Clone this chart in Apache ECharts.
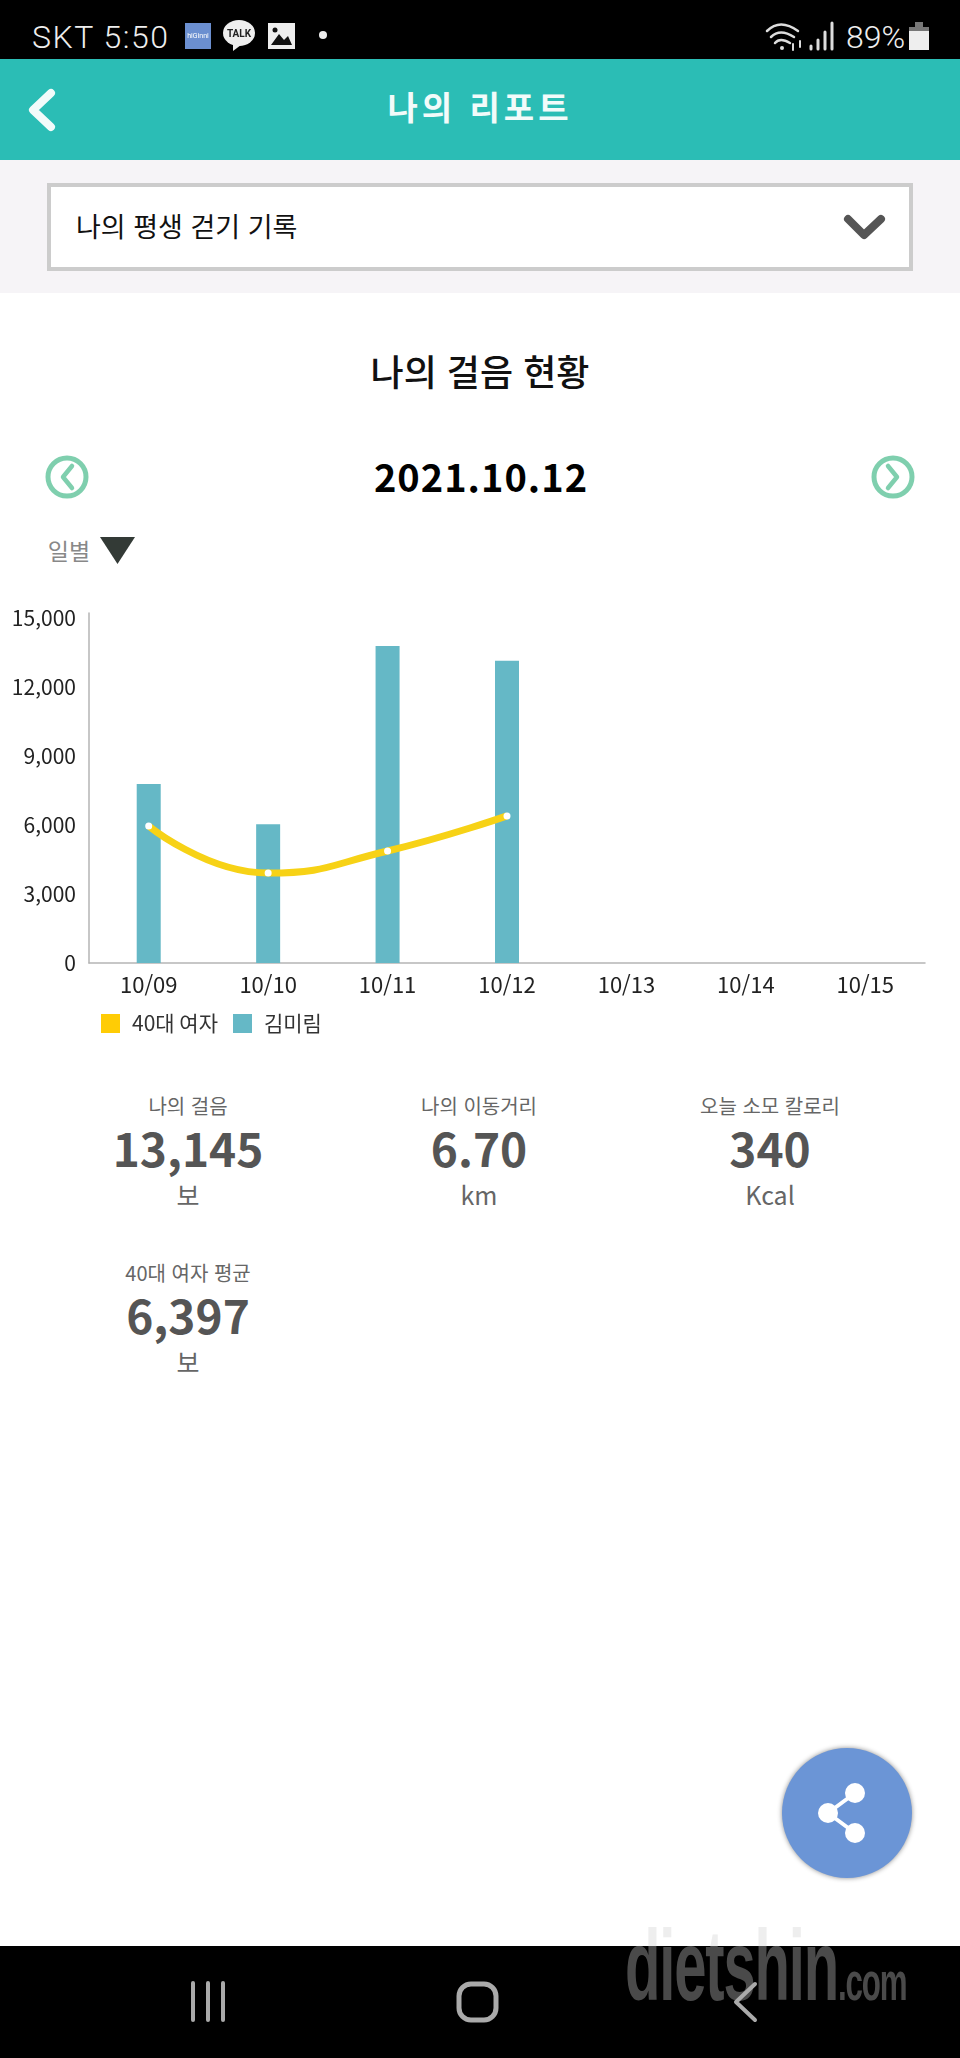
<!DOCTYPE html>
<html lang="ko">
<head>
<meta charset="utf-8">
<title>나의 리포트</title>
<script src="https://cdn.jsdelivr.net/npm/echarts@6/dist/echarts.min.js"></script>
<style>
  html, body { margin: 0; padding: 0; background: #fff; }
  body { position: relative; width: 960px; height: 2058px; overflow: hidden; font-family: "Noto Sans CJK KR", "Noto Sans", sans-serif; }
  .box { position: absolute; }
  .txt { position: absolute; white-space: nowrap; line-height: 1; transform: translate(-50%, -50%); }
  #chart { position: absolute; left: 0; top: 590px; width: 960px; height: 470px; }
  #icons { position: absolute; left: 0; top: 0; }
  .mark { position: absolute; left: 625px; top: 1915px; line-height: 1; white-space: nowrap; font-family: "Liberation Sans Narrow", "Liberation Sans", sans-serif; font-weight: 700; letter-spacing: -2px; transform-origin: left top; }
</style>
</head>
<body>
  <!-- 화면 배경 -->
  <div class="box" style="left:0;top:0;width:960px;height:59px;background:#000"></div>
  <div class="box" style="left:0;top:59px;width:960px;height:101px;background:#2bbdb5"></div>
  <div class="box" style="left:0;top:160px;width:960px;height:133px;background:#f6f4f7"></div>
  <div class="box" style="left:47px;top:183px;width:858px;height:80px;background:#fff;border:4px solid #ccc"></div>
  <div class="box" style="left:0;top:1946px;width:960px;height:112px;background:#000"></div>
  <div class="box" style="left:782px;top:1748px;width:130px;height:130px;border-radius:50%;background:#6b95d6;box-shadow:0 0 5px rgba(0,0,0,.45)"></div>

  <div class="txt" style="left:32px;top:37px;transform:translateY(-50%);font:300 32px Roboto;letter-spacing:1.5px;color:#eee">SKT 5:50</div>
  <div class="txt" style="left:846px;top:37px;transform:translateY(-50%);font:300 32px Roboto;color:#eee">89%</div>
  <div class="txt" style="left:480px;top:106px;font-size:33px;font-weight:700;color:#f2fbfa;letter-spacing:4px">나의 리포트</div>
  <div class="txt" style="left:76px;top:225px;transform:translateY(-50%);font-size:27px;color:#111">나의 평생 걷기 기록</div>
  <div class="txt" style="left:480px;top:370px;font-size:36px;font-weight:500;color:#111">나의 걸음 현황</div>
  <div class="txt" style="left:481px;top:476px;font-size:38px;font-weight:700;color:#000;letter-spacing:1px">2021.10.12</div>
  <div class="txt" style="left:69px;top:550px;font-size:23px;color:#888">일별</div>

  <div id="chart"></div>
  <div id="stats"></div>

  <svg id="icons" width="960" height="2058" fill="none" stroke-linecap="round" stroke-linejoin="round">
    <!-- 상단 상태바 -->
    <rect x="185" y="23" width="26" height="26" fill="#6b8fd0"/>
    <text x="198" y="38" font-size="7" fill="#fff" text-anchor="middle" font-family="Roboto">hiGinni</text>
    <ellipse cx="239" cy="33" rx="16" ry="13" fill="#eee"/>
    <path d="M233 44 L233 51 L241 45 Z" fill="#eee"/>
    <text x="239" y="37" font-size="10" font-weight="700" fill="#222" text-anchor="middle" font-family="Roboto">TALK</text>
    <rect x="268" y="23" width="27" height="26" fill="#eee"/>
    <path d="M271 45 L279 34 L284 40 L288 36 L292 45 Z" fill="#111"/>
    <circle cx="275" cy="30" r="2.5" fill="#111"/>
    <circle cx="323" cy="35" r="4" fill="#eee"/>
    <path d="M767 31 Q780 18 798 31 M771 37 Q780 28 794 37 M775 43 Q780 37 790 43" stroke="#ddd" stroke-width="2.5"/>
    <circle cx="782" cy="48" r="2" fill="#ddd"/>
    <path d="M793 44 V50 M800 41 V47" stroke="#ddd" stroke-width="2"/>
    <path d="M811 49 V46 M818 49 V40 M825 49 V32 M832 49 V23" stroke="#ddd" stroke-width="3"/>
    <rect x="909" y="27" width="20" height="23" fill="#eee"/>
    <rect x="909" y="27" width="20" height="4" fill="#777"/>
    <rect x="915" y="22" width="8" height="5" fill="#777"/>
    <!-- 헤더, 선택 상자 -->
    <path d="M51 93 L33 110 L51 127" stroke="#f2fbfa" stroke-width="8"/>
    <path d="M848 219 L864 235 L881 219" stroke="#555" stroke-width="8"/>
    <!-- 날짜 이동 -->
    <circle cx="67" cy="477" r="19" stroke="#7fcfae" stroke-width="5"/>
    <path d="M72 466 L63 477 L72 488" stroke="#7fcfae" stroke-width="4.5"/>
    <circle cx="893" cy="477" r="19" stroke="#7fcfae" stroke-width="5"/>
    <path d="M888 466 L897 477 L888 488" stroke="#7fcfae" stroke-width="4.5"/>
    <path d="M100 537 H135 L117.500 564 Z" fill="#333a36"/>
    <!-- 공유 버튼 -->
    <path d="M855 1793 L828 1813 L855 1833" stroke="#fff" stroke-width="4"/>
    <circle cx="855" cy="1793" r="10" fill="#fff"/>
    <circle cx="828" cy="1813" r="10" fill="#fff"/>
    <circle cx="855" cy="1833" r="10" fill="#fff"/>
  </svg>

  <!-- 워터마크 -->
  <div class="mark" style="font-size:100px;color:#4a4a4a;transform:scaleX(.58);clip-path:inset(31px 0 0 0)">dietshin<span style="font-size:54px">.com</span></div>
  <div class="mark" style="font-size:100px;color:#eee;transform:scaleX(.58);clip-path:inset(0 0 calc(100% - 31px) 0)">dietshin<span style="font-size:54px">.com</span></div>

  <svg class="box" style="left:0;top:0" width="960" height="2058" fill="none" stroke="#aaa" stroke-linecap="round" stroke-linejoin="round">
    <path d="M193 1983 V2020 M208 1983 V2020 M223 1983 V2020" stroke-width="4"/>
    <rect x="459" y="1984" width="37" height="36" rx="12" stroke-width="5"/>
    <path d="M755 1984 L736 2002 L755 2020" stroke-width="4"/>
  </svg>

<script>
// 차트 데이터
const dates = ['10/09', '10/10', '10/11', '10/12', '10/13', '10/14', '10/15']
const peerSteps = [5960, 3910, 4870, 6397, null, null, null]
const mySteps = [7780, 6030, 13790, 13145, null, null, null]
const peerName = '40대 여자'
const myName = '김미림'

// 요약 수치
const statLabels = ['나의 걸음', '나의 이동거리', '오늘 소모 칼로리', '40대 여자 평균']
const statValues = ['13,145', '6.70', '340', '6,397']
const statUnits = ['보', 'km', 'Kcal', '보']
const statX = [188, 479, 770, 188]
const statY = [1106, 1106, 1106, 1273]

const fontName = '"Noto Sans CJK KR", "Noto Sans", sans-serif'

let statsHtml = ''
for (let i = 0; i < statLabels.length; i++) {
  let y = statY[i]
  statsHtml += '<div class="txt" style="left:' + statX[i] + 'px;top:' + y + 'px;font-size:20px;color:#666">' + statLabels[i] + '</div>'
  statsHtml += '<div class="txt" style="left:' + statX[i] + 'px;top:' + (y + 41) + 'px;font-size:46px;font-weight:700;color:#555">' + statValues[i] + '</div>'
  statsHtml += '<div class="txt" style="left:' + statX[i] + 'px;top:' + (y + 88) + 'px;font-size:25px;color:#666">' + statUnits[i] + '</div>'
}
document.getElementById('stats').innerHTML = statsHtml

let chart = echarts.init(document.getElementById('chart'))
let option = {
  animation: false,
  textStyle: { fontFamily: fontName },
  grid: { left: 89, top: 23, width: 836, height: 350 },
  legend: {
    left: 101,
    top: 423,
    padding: 0,
    itemWidth: 19,
    itemHeight: 19,
    itemGap: 15,
    icon: 'rect',
    textStyle: { fontSize: 21, color: '#333', fontFamily: fontName, padding: [0, 0, 0, 7] },
    data: [
      { name: peerName, itemStyle: { color: '#ffcc05' } },
      { name: myName, itemStyle: { color: '#65b8c6' } }
    ]
  },
  xAxis: {
    type: 'category',
    data: dates,
    axisTick: { show: false },
    axisLine: { lineStyle: { color: '#b5b5b5', width: 1.5 } },
    axisLabel: { fontSize: 22, color: '#222', margin: 11, fontFamily: fontName }
  },
  yAxis: {
    type: 'value',
    min: 0,
    max: 15220,
    interval: 3000,
    splitLine: { show: false },
    axisTick: { show: false },
    axisLine: { show: true, lineStyle: { color: '#b5b5b5', width: 1.5 } },
    axisLabel: {
      fontSize: 21,
      color: '#222',
      margin: 13,
      fontFamily: fontName,
      showMaxLabel: false,
      formatter: function (v) { return v.toLocaleString('en-US') }
    }
  },
  series: [{
    name: myName,
    type: 'bar',
    data: mySteps,
    barWidth: 24,
    itemStyle: { color: '#65b8c6' }
  }, {
    name: peerName,
    type: 'line',
    data: peerSteps,
    smooth: true,
    symbol: 'circle',
    symbolSize: 7,
    z: 5,
    lineStyle: { color: '#f7d216', width: 7 },
    itemStyle: { color: '#fff' }
  }]
}
chart.setOption(option, true)
</script>
</body>
</html>
